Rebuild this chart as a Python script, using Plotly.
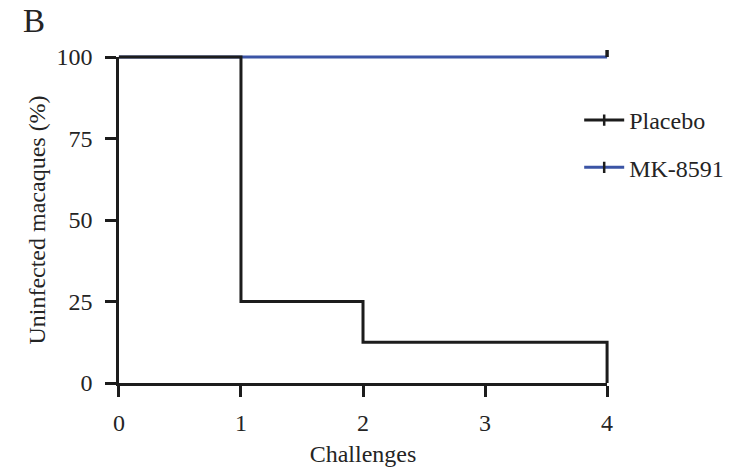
import plotly.graph_objects as go

# ---- data ----
placebo_times = [0, 1, 2, 4]
placebo_surv = [100, 25, 12.5, 0]
mk_times = [0, 4]
mk_surv = [100, 100]
censor_times = [4]
censor_surv = [100]
x_ticks = [0, 1, 2, 3, 4]
y_ticks = [0, 25, 50, 75, 100]
x_title = "Challenges"
y_title = "Uninfected macaques (%)"
names = ["Placebo", "MK-8591"]
panel = "B"

# ---- geometry ----
W, H = 741, 472
X0, X1 = 119, 609      # pixel of x=0 and x=4
YT, YB = 57, 383       # pixel of y=100 and y=0
ml, mr, mt, mb = 100, 110, 40, 70
PW, PH = W - ml - mr, H - mt - mb
xmin, xmax = min(x_ticks), max(x_ticks)
ymin, ymax = min(y_ticks), max(y_ticks)
pxu = (X1 - X0) / (xmax - xmin)
pyu = (YB - YT) / (ymax - ymin)
data_xr = [xmin + (ml - X0) / pxu, xmin + (W - mr - X0) / pxu]
data_yr = [ymin + (YB - (H - mb)) / pyu, ymin + (YB - mt) / pyu]
vis_xd = [(X0 - ml) / PW, (X1 - ml) / PW]
vis_yd = [((H - mb) - YB) / PH, ((H - mb) - YT) / PH]

BLACK = "#1c1c1c"
BLUE = "#3b54a5"
TXT = "#242424"
FONT = "'Liberation Serif', 'Times New Roman', 'DejaVu Serif', serif"
tick_up = 7 / pyu  # censor tick length in data units

fig = go.Figure()
fig.add_trace(go.Scatter(x=mk_times, y=mk_surv, mode="lines", line=dict(color=BLUE, width=3, shape="hv"),
                         showlegend=False, hoverinfo="skip"))
fig.add_trace(go.Scatter(x=placebo_times, y=placebo_surv, mode="lines", line=dict(color=BLACK, width=3, shape="hv"),
                         showlegend=False, hoverinfo="skip"))
for cx, cy in zip(censor_times, censor_surv):
    fig.add_trace(go.Scatter(x=[cx, cx], y=[cy, cy + tick_up], mode="lines", line=dict(color=BLACK, width=3.5),
                             showlegend=False, hoverinfo="skip"))

# legend entries
for nm, col, grp in [(names[0], BLACK, "a"), (names[1], BLUE, "b")]:
    fig.add_trace(go.Scatter(x=[None], y=[None], mode="lines+markers", name=nm, legendgroup=grp,
                             line=dict(color=col, width=3),
                             marker=dict(symbol="line-ns", size=8, line=dict(color=BLACK, width=2.5))))

# visible axes carrier
fig.add_trace(go.Scatter(x=[xmin], y=[ymin], xaxis="x2", yaxis="y2", mode="markers",
                         marker=dict(opacity=0), showlegend=False, hoverinfo="skip"))

axfont = dict(family=FONT, size=24, color=TXT)
titfont = dict(family=FONT, size=24, color=TXT)
fig.update_layout(
    width=W, height=H,
    margin=dict(l=ml, r=mr, t=mt, b=mb),
    paper_bgcolor="white", plot_bgcolor="rgba(0,0,0,0)",
    font=dict(family=FONT, color=TXT),
    xaxis=dict(domain=[0, 1], range=data_xr, visible=False, fixedrange=True),
    yaxis=dict(domain=[0, 1], range=data_yr, visible=False, fixedrange=True),
    xaxis2=dict(domain=vis_xd, range=[xmin, xmax], anchor="y2", tickvals=x_ticks, ticks="outside",
                ticklen=11, tickwidth=2.5, tickcolor=BLACK, showline=True, linewidth=2.5, linecolor=BLACK,
                showgrid=False, zeroline=False, tickfont=axfont, automargin=False, ticklabelstandoff=5,
                title=dict(text=x_title, font=titfont, standoff=11)),
    yaxis2=dict(domain=vis_yd, range=[ymin, ymax], anchor="x2", tickvals=y_ticks, ticks="outside",
                ticklen=11, tickwidth=2.5, tickcolor=BLACK, showline=True, linewidth=2.5, linecolor=BLACK,
                showgrid=False, zeroline=False, tickfont=axfont, automargin=False, ticklabelstandoff=8,
                title=dict(text=y_title, font=titfont, standoff=4)),
    legend=dict(x=(581 - ml) / PW, y=((H - mb) - 98) / PH, xanchor="left", yanchor="top",
                font=dict(family=FONT, size=24, color=TXT), tracegroupgap=13,
                bgcolor="rgba(0,0,0,0)", itemwidth=40),
    annotations=[dict(text=panel, xref="paper", yref="paper", x=(21 - ml) / PW, y=((H - mb) - 1) / PH,
                      xanchor="left", yanchor="top", showarrow=False,
                      font=dict(family=FONT, size=33, color=TXT))],
)
fig.write_html("out.html")
